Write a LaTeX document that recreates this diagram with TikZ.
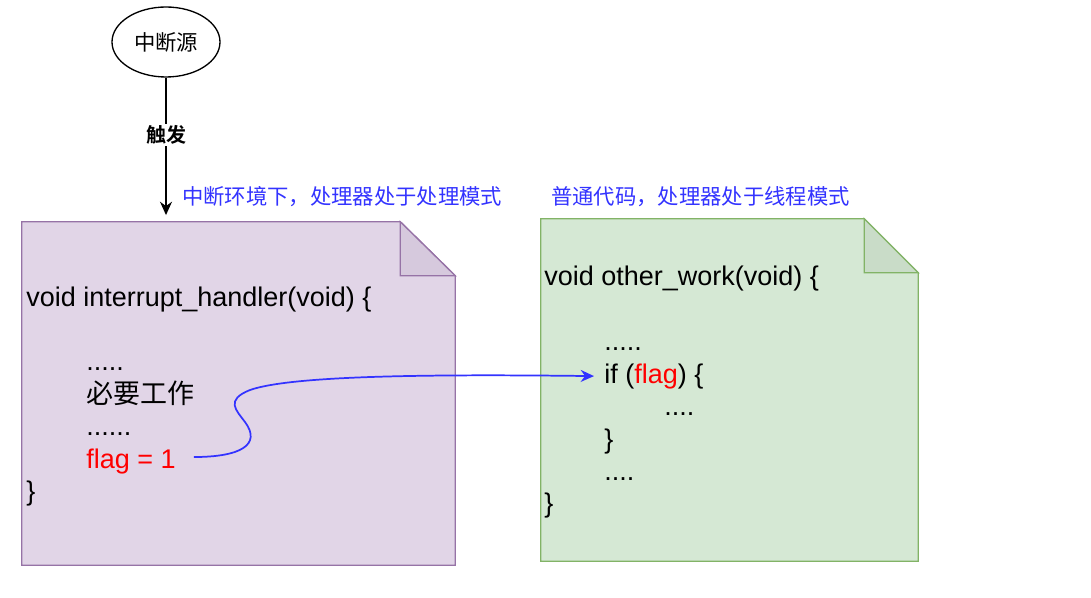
\documentclass[tikz,border=0pt]{standalone}
\usepackage{fontspec}
\setmainfont{Liberation Sans}
\newfontfamily\cjk{Noto Sans CJK SC}[BoldFont={Noto Sans CJK SC Bold}]
\usetikzlibrary{arrows.meta,shapes.geometric,calc}
\definecolor{notepurple}{HTML}{E1D5E7}
\definecolor{notepurpledraw}{HTML}{9673A6}
\definecolor{foldpurple}{HTML}{D6C9DD}
\definecolor{notegreen}{HTML}{D5E8D4}
\definecolor{notegreendraw}{HTML}{82B366}
\definecolor{foldgreen}{HTML}{C9DCC8}
\definecolor{labelblue}{HTML}{3333FF}
\definecolor{codered}{HTML}{FF0000}
\newcommand{\codefont}{\fontsize{20.25}{24}\selectfont}
\newcommand{\labelfont}{\fontsize{16}{19}\selectfont\cjk}
\begin{document}
\begin{tikzpicture}[x=0.75pt,y=-0.75pt,
  codeline/.style={inner sep=0pt,anchor=base west,font=\codefont},
  bluelabel/.style={inner sep=0pt,anchor=base west,font=\labelfont,text=labelblue},
  notebox/.style={inner sep=0pt,draw=none,fill=none,rectangle},
  srcnode/.style={ellipse,draw=black,line width=1pt,minimum width=108*0.75pt,minimum height=70*0.75pt,inner sep=0pt,font=\labelfont},
  conn/.style={line width=1.1pt,-{Stealth[length=10pt,width=9pt]}},
  blueconn/.style={draw=labelblue,line width=1.3pt,-{Stealth[length=10pt,width=9pt]}}
]
\useasboundingbox (0,0) rectangle (1091,598);

% notes
\node[notebox,minimum width=433*0.75pt,minimum height=343*0.75pt] (lnote) at (238.5,393.5) {};
\node[notebox,minimum width=377*0.75pt,minimum height=342*0.75pt] (rnote) at (729.5,390) {};

\filldraw[fill=notepurple,draw=notepurpledraw,line width=1pt,line join=miter]
  (lnote.north west) -- ($(lnote.north east)+(-55,0)$) -- ($(lnote.north east)+(0,54)$)
  -- (lnote.south east) -- (lnote.south west) -- cycle;
\filldraw[fill=foldpurple,draw=notepurpledraw,line width=1pt,line join=miter]
  ($(lnote.north east)+(-55,0)$) -- ($(lnote.north east)+(-55,54)$) -- ($(lnote.north east)+(0,54)$) -- cycle;

\filldraw[fill=notegreen,draw=notegreendraw,line width=1pt,line join=miter]
  (rnote.north west) -- ($(rnote.north east)+(-54,0)$) -- ($(rnote.north east)+(0,54)$)
  -- (rnote.south east) -- (rnote.south west) -- cycle;
\filldraw[fill=foldgreen,draw=notegreendraw,line width=1pt,line join=miter]
  ($(rnote.north east)+(-54,0)$) -- ($(rnote.north east)+(-54,54)$) -- ($(rnote.north east)+(0,54)$) -- cycle;

% source
\node[srcnode] (src) at (166,42) {中断源};
\draw[conn,shorten >=5pt] (src.south) -- (src.south |- lnote.north)
  node[pos=0.4,fill=white,inner sep=1pt,font=\fontsize{15}{18}\selectfont\cjk\bfseries] (trig) {触发};

% labels
\node[bluelabel] (llabel) at (182,205) {中断环境下，处理器处于处理模式};
\node[bluelabel] (rlabel) at (551,205) {普通代码，处理器处于线程模式};

% left code
\node[codeline] (l1) at (26,306) {void interrupt\_handler(void) \{};
\node[codeline] (l2) at (86,370.8) {.....};
\node[codeline] (l3) at (86,403.2) {\cjk 必要工作};
\node[codeline] (l4) at (86,435.6) {......};
\node[codeline,text=codered] (flag1) at (86,468) {flag = 1};
\node[codeline] (l6) at (26,500.4) {\}};

% right code
\node[codeline] (r1) at (544,286) {void other\_work(void) \{};
\node[codeline] (r2) at (604,350.8) {.....};
\node[codeline] (ifflag) at (604,383.2) {if (\textcolor{codered}{flag}) \{};
\node[codeline] (r4) at (664,415.6) {....};
\node[codeline] (r5) at (604,448) {\}};
\node[codeline] (r6) at (604,480.4) {....};
\node[codeline] (r7) at (544,512.8) {\}};

% curve connector
\draw[blueconn,shorten >=7.5pt] (flag1.east) ++(18,-4)
  .. controls (240,457) and (262,445) .. (245,422)
  .. controls (236,410) and (225,400) .. (250,390)
  .. controls (290,376) and (420,374) .. (ifflag.west);
\end{tikzpicture}
\end{document}
